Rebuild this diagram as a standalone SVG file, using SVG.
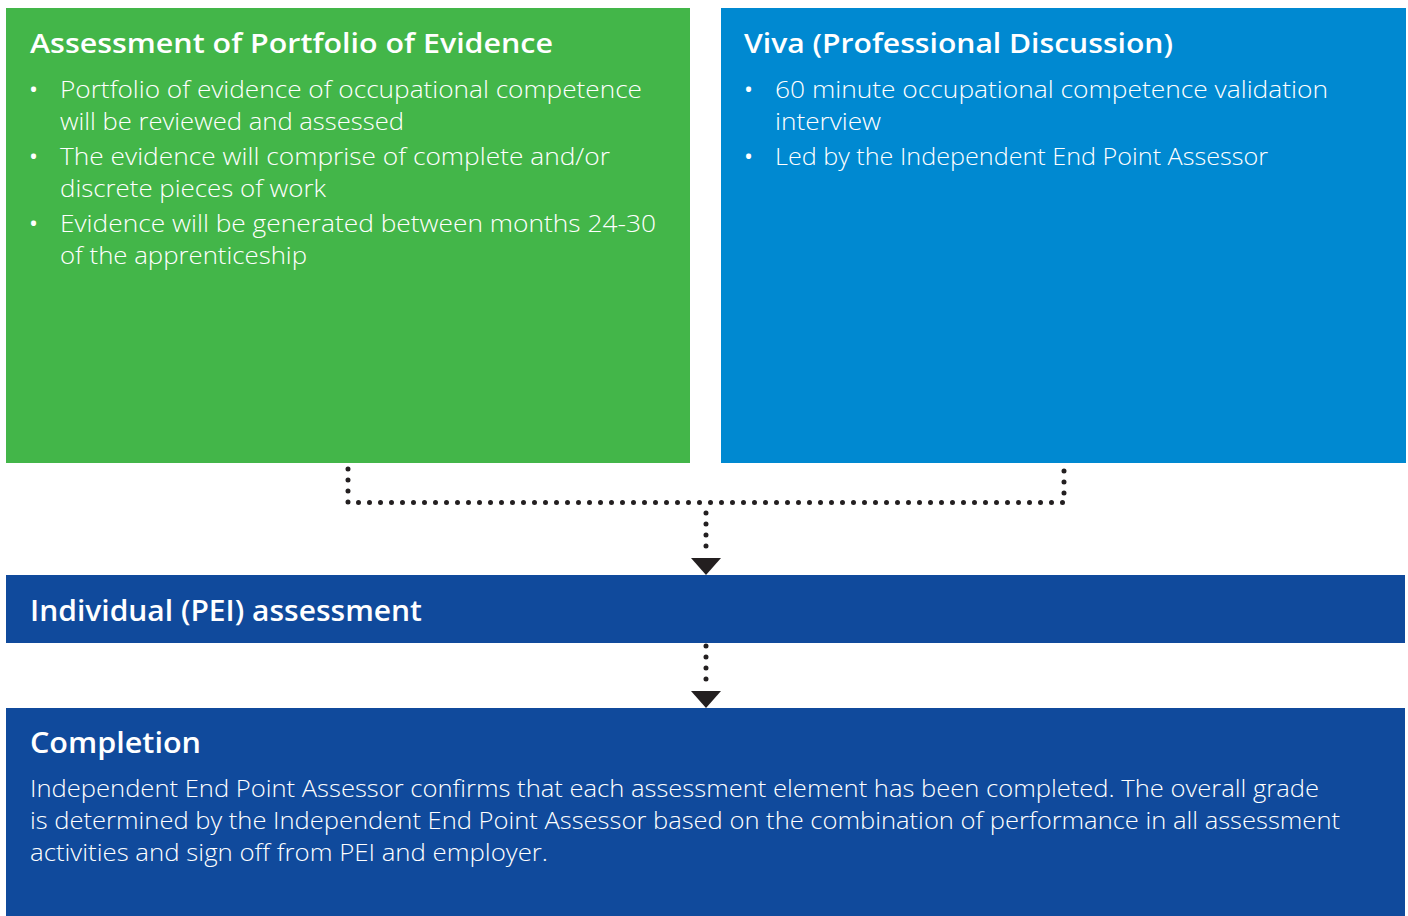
<svg xmlns="http://www.w3.org/2000/svg" width="1408" height="916" viewBox="0 0 1408 916">
<defs>
<style>
.t{font-family:"Open Sans","Noto Sans","Liberation Sans",sans-serif;fill:#ffffff}
.h{font-weight:600;font-size:27.5px}
.h2{font-weight:600;font-size:29.5px}
.b{font-weight:300;font-size:24px}
.bu{font-weight:400;font-size:24px}
.dot{fill:none;stroke:#231f20;stroke-width:5;stroke-linecap:round;stroke-dasharray:0 11}
.tri{fill:#231f20}
</style>
</defs>
<rect width="1408" height="916" fill="#ffffff"/>
<g id="portfolio">
<rect x="6" y="8" width="684" height="455" fill="#43b649"/>
<text class="t h" x="30" y="53" textLength="523" lengthAdjust="spacingAndGlyphs">Assessment of Portfolio of Evidence</text>
<text class="t bu" x="29" y="98">•</text>
<text class="t b" x="60" y="98" textLength="582" lengthAdjust="spacingAndGlyphs">Portfolio of evidence of occupational competence</text>
<text class="t b" x="60" y="130" textLength="344" lengthAdjust="spacingAndGlyphs">will be reviewed and assessed</text>
<text class="t bu" x="29" y="165">•</text>
<text class="t b" x="60" y="165" textLength="550" lengthAdjust="spacingAndGlyphs">The evidence will comprise of complete and/or</text>
<text class="t b" x="60" y="197" textLength="266" lengthAdjust="spacingAndGlyphs">discrete pieces of work</text>
<text class="t bu" x="29" y="232">•</text>
<text class="t b" x="60" y="232" textLength="596" lengthAdjust="spacingAndGlyphs">Evidence will be generated between months 24-30</text>
<text class="t b" x="60" y="264" textLength="247" lengthAdjust="spacingAndGlyphs">of the apprenticeship</text>
</g>
<g id="viva">
<rect x="721" y="8" width="685" height="455" fill="#0089d1"/>
<text class="t h" x="744" y="53" textLength="429" lengthAdjust="spacingAndGlyphs">Viva (Professional Discussion)</text>
<text class="t bu" x="744" y="98">•</text>
<text class="t b" x="775" y="98" textLength="553" lengthAdjust="spacingAndGlyphs">60 minute occupational competence validation</text>
<text class="t b" x="775" y="130" textLength="106" lengthAdjust="spacingAndGlyphs">interview</text>
<text class="t bu" x="744" y="165">•</text>
<text class="t b" x="775" y="165" textLength="493" lengthAdjust="spacingAndGlyphs">Led by the Independent End Point Assessor</text>
</g>
<g id="pei">
<rect x="6" y="575" width="1399" height="68" fill="#104a9c"/>
<text class="t h2" x="30" y="621" textLength="392" lengthAdjust="spacingAndGlyphs">Individual (PEI) assessment</text>
</g>
<g id="completion">
<rect x="6" y="708" width="1399" height="208" fill="#104a9c"/>
<text class="t h2" x="30" y="753" textLength="171" lengthAdjust="spacingAndGlyphs">Completion</text>
<text class="t b" x="30" y="797" textLength="1289" lengthAdjust="spacingAndGlyphs">Independent End Point Assessor confirms that each assessment element has been completed. The overall grade</text>
<text class="t b" x="30" y="829" textLength="1310" lengthAdjust="spacingAndGlyphs">is determined by the Independent End Point Assessor based on the combination of performance in all assessment</text>
<text class="t b" x="30" y="861" textLength="518" lengthAdjust="spacingAndGlyphs">activities and sign off from PEI and employer.</text>
</g>
<g id="connectors">
<polyline class="dot" points="348,469 348,502.5 1064,502.5 1064,464"/>
<line class="dot" x1="706" y1="513" x2="706" y2="556"/>
<polygon class="tri" points="691,558 721,558 706,575"/>
<line class="dot" x1="706" y1="646" x2="706" y2="688"/>
<polygon class="tri" points="691,691 721,691 706,708"/>
</g>
</svg>
